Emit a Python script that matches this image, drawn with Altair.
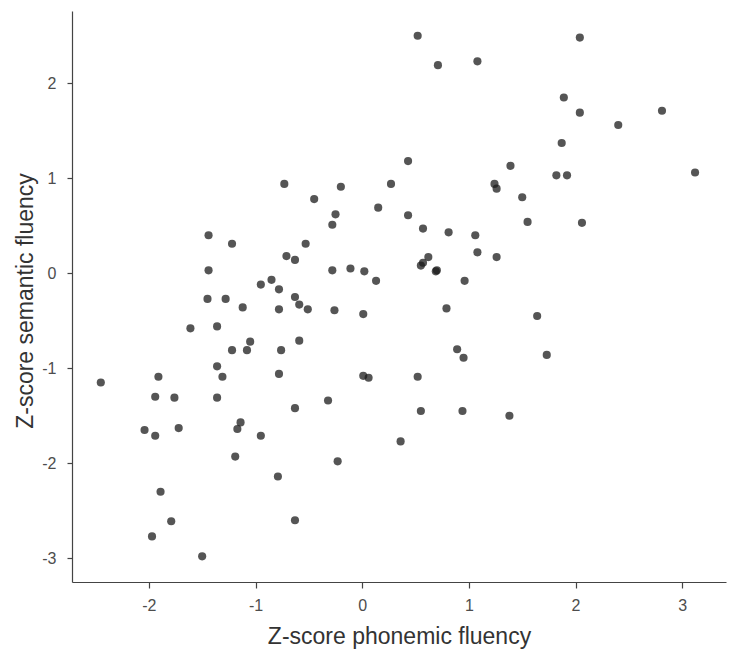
import altair as alt
import pandas as pd

phonemic = [
    -0.73, -0.20, 0.27, -0.45, 0.15, -0.25, -0.28, -1.44, -1.22, -0.53,
    -0.71, -0.63, -1.44, -0.28, -0.11, 0.02, 0.13, -0.95, -0.85, -0.78,
    0.52, 2.04, 0.71, 1.08, 1.89, 2.04, 2.81, 2.40, 1.87, 0.43,
    1.39, 1.82, 1.92, 3.12, 1.24, 1.26, 1.50, 0.43, 0.57, 0.81,
    1.06, 1.55, 2.06, 1.08, 1.26, 0.62, 0.55, 0.57, 0.69, 0.70,
    0.96, -1.45, -1.28, -1.12, -0.78, -0.63, -0.59, -0.51, -0.26, 0.01,
    -1.61, -1.36, -1.05, -1.22, -1.08, -0.76, -0.59, -1.36, -1.31, -0.78,
    0.01, 0.06, -2.45, -1.91, -1.94, -1.76, -1.36, -0.63, -0.32, -2.04,
    -1.94, -1.72, -1.14, -1.17, -0.95, 0.36, -1.19, -0.23, -0.79, -1.89,
    -1.79, -0.63, -1.97, -1.50, 0.79, 1.64, 0.89, 0.95, 1.73, 0.52,
    0.55, 0.94, 1.38,
]
semantic = [
    0.94, 0.91, 0.94, 0.78, 0.69, 0.62, 0.51, 0.40, 0.31, 0.31,
    0.18, 0.14, 0.03, 0.03, 0.05, 0.02, -0.08, -0.12, -0.07, -0.17,
    2.50, 2.48, 2.19, 2.23, 1.85, 1.69, 1.71, 1.56, 1.37, 1.18,
    1.13, 1.03, 1.03, 1.06, 0.94, 0.89, 0.80, 0.61, 0.47, 0.43,
    0.40, 0.54, 0.53, 0.22, 0.17, 0.17, 0.08, 0.11, 0.02, 0.03,
    -0.08, -0.27, -0.27, -0.36, -0.38, -0.25, -0.33, -0.38, -0.39, -0.43,
    -0.58, -0.56, -0.72, -0.81, -0.81, -0.81, -0.71, -0.98, -1.09, -1.06,
    -1.08, -1.10, -1.15, -1.09, -1.30, -1.31, -1.31, -1.42, -1.34, -1.65,
    -1.71, -1.63, -1.57, -1.64, -1.71, -1.77, -1.93, -1.98, -2.14, -2.30,
    -2.61, -2.60, -2.77, -2.98, -0.37, -0.45, -0.80, -0.89, -0.86, -1.09,
    -1.45, -1.45, -1.50,
]
x_ticks = [-2, -1, 0, 1, 2, 3]
y_ticks = [-3, -2, -1, 0, 1, 2]

df = pd.DataFrame({"phonemic": phonemic, "semantic": semantic})

W, H = 654, 571
FONT = "Liberation Sans"

chart = (
    alt.Chart(df)
    .mark_circle(size=66, color="#1a1a1a", opacity=0.74)
    .encode(
        x=alt.X(
            "phonemic:Q",
            scale=alt.Scale(domain=[-2.72, 3.41], nice=False, zero=False),
            axis=alt.Axis(
                values=x_ticks,
                title="Z-score phonemic fluency",
                labelExpr="'' + datum.value",
                grid=False,
                tickSize=6,
                labelPadding=9,
                titleX=W / 2,
                titleY=61,
                titleBaseline="alphabetic",
                titleAlign="center",
            ),
        ),
        y=alt.Y(
            "semantic:Q",
            scale=alt.Scale(domain=[-3.25, 2.76], nice=False, zero=False),
            axis=alt.Axis(
                values=y_ticks,
                title="Z-score semantic fluency",
                labelExpr="'' + datum.value",
                grid=False,
                tickSize=5,
                labelPadding=11,
                titleX=-40,
                titleY=H / 2 + 4,
                titleAngle=-90,
                titleBaseline="alphabetic",
                titleAlign="center",
            ),
        ),
    )
    .properties(
        width=W,
        height=H,
        background="white",
        autosize=alt.AutoSizeParams(type="none"),
        padding={"left": 64, "top": 3, "right": 3, "bottom": 70},
    )
    .configure_view(stroke=None)
    .configure_axis(
        domainColor="#444444",
        domainWidth=1.2,
        tickColor="#444444",
        tickWidth=1.2,
        labelFont=FONT,
        labelFontSize=16,
        labelColor="#4d4d4d",
        titleFont=FONT,
        titleFontSize=23,
        titleFontWeight="normal",
        titleColor="#333333",
    )
)

chart.save("out.html", embed_options={"renderer": "svg", "actions": False})
